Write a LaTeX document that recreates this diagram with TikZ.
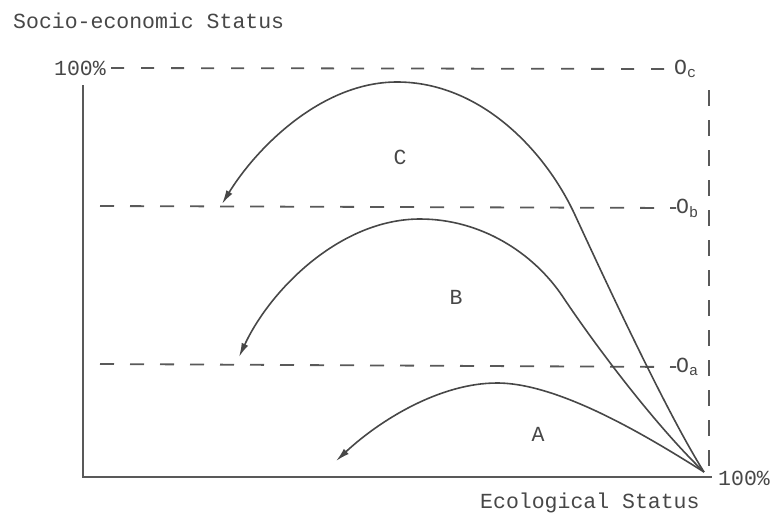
\documentclass[tikz,border=0pt]{standalone}
\usepackage{fontspec}
\setmainfont{Liberation Mono}
\usetikzlibrary{positioning, arrows.meta, calc}

\begin{document}
\begin{tikzpicture}[
  x=1pt, y=-1pt,
  txt/.style={inner sep=0pt, font=\fontsize{21.5}{22}\selectfont, text=black!72},
  axis/.style={line width=2.6pt, black!65},
  level/.style={dash pattern=on 14pt off 16pt, line width=1.8pt, black!65},
  flow/.style={line width=1.6pt, black!72, -{Latex[length=14pt, width=7pt]}}
]
  \useasboundingbox (0,0) rectangle (770,515);

  % axes
  \coordinate (orig) at (83,477);
  \coordinate (ytop) at (83,85);
  \coordinate (xend) at (712,477);
  \coordinate (corner) at (704,472);
  \coordinate (rtop) at (709,90);
  \coordinate (rbot) at (709,468);
  \draw[axis] (ytop) -- (orig) -- (xend);
  \draw[level, dash pattern=on 16pt off 14pt] (rtop) -- (rbot);

  \node[txt, anchor=west] (ylab) at (13,21) {Socio-economic Status};
  \node[txt, anchor=west] (xlab) at (480,503) {Ecological Status};
  \node[txt, anchor=east] (ymax) at (106,68) {100\%};
  \node[txt, anchor=west] (xmax) at (718,478) {100\%};

  % levels
  \node[txt, anchor=west] (oc) at (674,69) {O\textsubscript{c}};
  \node[txt, anchor=west] (ob) at (676,208) {O\textsubscript{b}};
  \node[txt, anchor=west] (oa) at (676,367) {O\textsubscript{a}};
  \coordinate (lb) at (100,206);
  \coordinate (la) at (100,364);
  \draw[level, dash pattern=on 13pt off 17pt] (ymax.east) ++(5,0) -- (oc.west);
  \draw[level] (lb) -- (ob.west);
  \draw[level] (la) -- (oa.west);

  % paths
  \coordinate (endc) at (222,204);
  \coordinate (endb) at (239,357);
  \coordinate (enda) at (336,461);
  \draw[flow] (corner) .. controls (665,410) and (600,269) .. (575,215)
    .. controls (545,150) and (480,82) .. (397,82)
    .. controls (320,82) and (255,150) .. (endc);
  \draw[flow] (corner) .. controls (655,425) and (595,345) .. (563,297)
    .. controls (533,252) and (480,219) .. (420,219)
    .. controls (340,219) and (270,290) .. (endb);
  \draw[flow] (corner) .. controls (650,438) and (560,383) .. (497,383)
    .. controls (440,383) and (380,420) .. (enda);

  \node[txt] (c) at (400,157) {C};
  \node[txt] (b) at (456,297) {B};
  \node[txt] (a) at (538,434) {A};
\end{tikzpicture}
\end{document}
